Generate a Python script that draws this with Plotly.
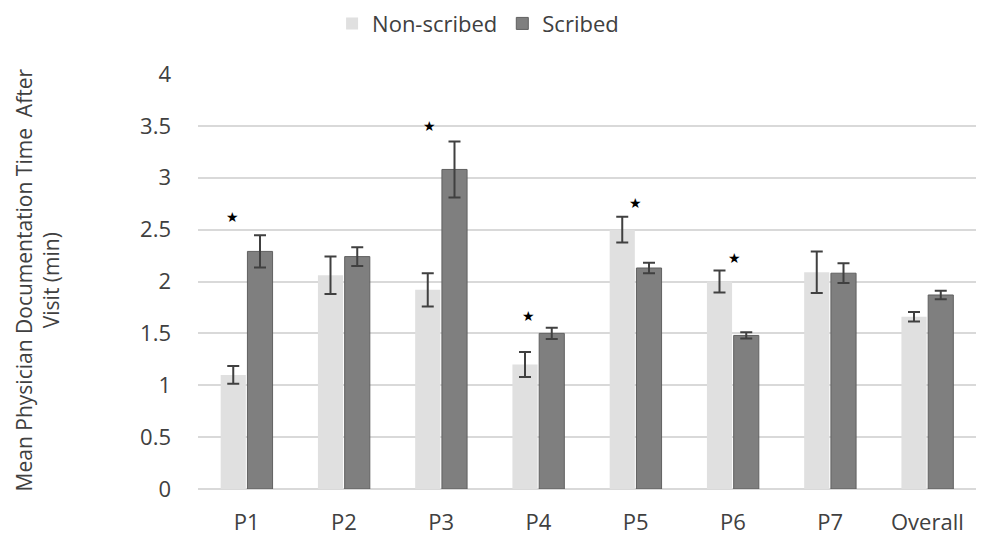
import plotly.graph_objects as go

categories = ["P1", "P2", "P3", "P4", "P5", "P6", "P7", "Overall"]
non_scribed = [1.10, 2.06, 1.92, 1.20, 2.50, 2.00, 2.09, 1.66]
non_scribed_err = [0.085, 0.18, 0.16, 0.12, 0.125, 0.105, 0.20, 0.045]
scribed = [2.29, 2.24, 3.08, 1.50, 2.13, 1.48, 2.08, 1.87]
scribed_err = [0.155, 0.09, 0.27, 0.055, 0.05, 0.03, 0.095, 0.04]
# y level of significance stars (None = no star)
star_y = [2.62, None, 3.50, 1.67, 2.76, 2.23, None, None]
star_shift = [-14, 0, -12, -10, 0, 2, 0, 0]

font_family = "Open Sans, Noto Sans, sans-serif"
text_col = "#404040"

fig = go.Figure()
fig.add_trace(go.Bar(
    name="Non-scribed", x=categories, y=non_scribed,
    marker=dict(color="#e0e0e0", line=dict(color="#e0e0e0", width=0)),
    error_y=dict(type="data", array=non_scribed_err, color="#404040", thickness=2, width=6),
))
fig.add_trace(go.Bar(
    name="Scribed", x=categories, y=scribed,
    marker=dict(color="#7f7f7f", line=dict(color="#606060", width=1)),
    error_y=dict(type="data", array=scribed_err, color="#404040", thickness=2, width=6),
))

for c, sy, sh in zip(categories, star_y, star_shift):
    if sy is not None:
        fig.add_annotation(x=c, y=sy, xref="x", yref="y", text="★", showarrow=False,
                           xshift=sh, font=dict(size=14, color="black", family="DejaVu Sans"))

fig.add_annotation(
    text="Mean Physician Documentation Time  After<br>Visit (min)",
    xref="paper", yref="paper", x=-0.207, xanchor="center", y=0.505, yanchor="middle",
    textangle=-90, showarrow=False,
    font=dict(size=21, color=text_col, family=font_family), align="center",
)

fig.update_layout(
    width=996, height=539,
    margin=dict(l=190, r=28, t=66, b=58, autoexpand=False),
    paper_bgcolor="white", plot_bgcolor="white",
    barmode="group", bargap=0.45, bargroupgap=0.06,
    font=dict(family=font_family, color=text_col),
    legend=dict(orientation="h", x=0.36, xanchor="center", y=1.172, yanchor="top",
                font=dict(size=22, color=text_col), itemwidth=30),
    showlegend=True,
)
fig.update_yaxes(
    range=[0, 4], tickvals=[0, 0.5, 1, 1.5, 2, 2.5, 3, 3.5, 4],
    ticktext=["0", "0.5", "1", "1.5", "2", "2.5", "3", "3.5", "4"],
    showgrid=True, gridcolor="#d9d9d9", gridwidth=1.5,
    zeroline=True, zerolinecolor="#d9d9d9", zerolinewidth=1.5,
    showline=False, ticks="", ticklabelstandoff=26,
    tickfont=dict(size=22, color=text_col),
)
fig.update_xaxes(
    showgrid=False, showline=False, ticks="", ticklabelstandoff=18,
    tickfont=dict(size=22, color=text_col),
)

fig.write_html("out.html")
